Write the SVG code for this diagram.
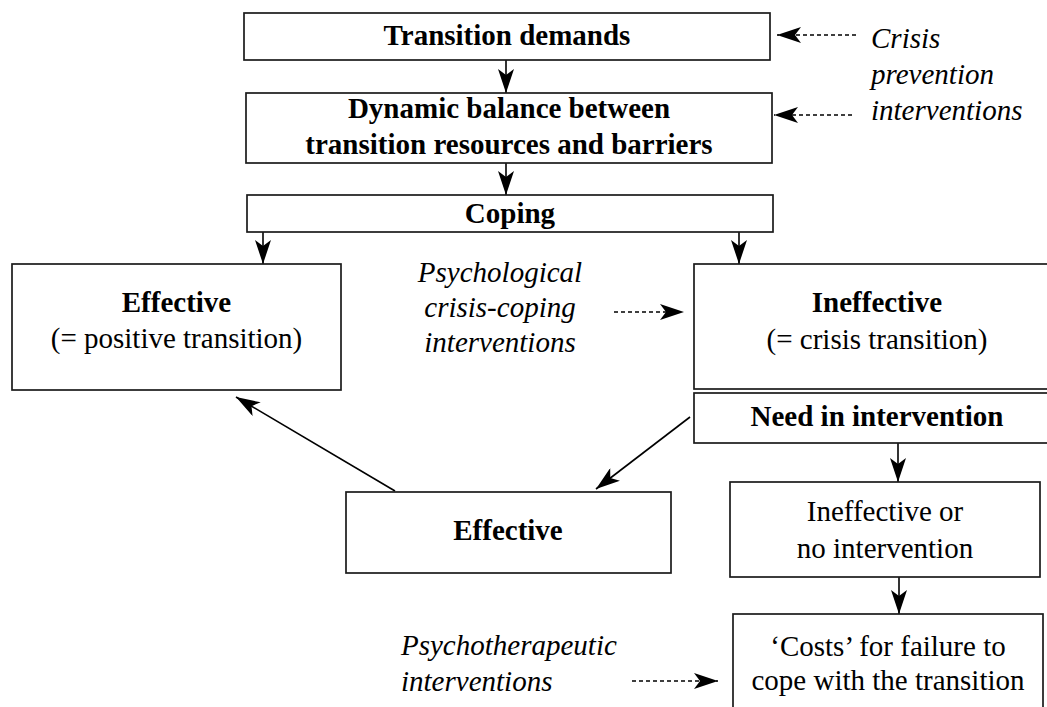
<svg xmlns="http://www.w3.org/2000/svg" width="1047" height="707" viewBox="0 0 1047 707">
<style>
.box{fill:#fff;stroke:#1a1a1a;stroke-width:1.7}
.t{font-family:'Liberation Serif','Times New Roman',Times,'Nimbus Roman','DejaVu Serif',serif;font-size:29px;fill:#000}
.b{font-weight:bold}
.i{font-style:italic}
.m{text-anchor:middle}
.c{fill:none;stroke:#000;stroke-width:1.6}
.d{fill:none;stroke:#000;stroke-width:1.6;stroke-dasharray:4 3}
</style>
<defs>
<marker id="ah" markerUnits="userSpaceOnUse" markerWidth="24" markerHeight="16" viewBox="0 0 24 16" refX="24" refY="8" orient="auto">
<path d="M0,0 L24,8 L0,16 L6,8 z" fill="#000"/>
</marker>
</defs>
<rect width="1047" height="707" fill="#fff"/>
<g id="connectors">
<line class="c" x1="506" y1="60" x2="506" y2="93" marker-end="url(#ah)"/>
<line class="c" x1="506" y1="163" x2="506" y2="195" marker-end="url(#ah)"/>
<line class="c" x1="263" y1="232" x2="263" y2="264" marker-end="url(#ah)"/>
<line class="c" x1="739" y1="232" x2="739" y2="264" marker-end="url(#ah)"/>
<line class="c" x1="898" y1="443" x2="898" y2="482" marker-end="url(#ah)"/>
<line class="c" x1="899" y1="577" x2="899" y2="614" marker-end="url(#ah)"/>
<line class="c" x1="690" y1="417" x2="596" y2="489" marker-end="url(#ah)"/>
<line class="c" x1="395" y1="491" x2="236" y2="397" marker-end="url(#ah)"/>
<line class="d" x1="856" y1="35" x2="777" y2="35" marker-end="url(#ah)"/>
<line class="d" x1="852" y1="115" x2="774" y2="115" marker-end="url(#ah)"/>
<line class="d" x1="614" y1="312" x2="684" y2="312" marker-end="url(#ah)"/>
<line class="d" x1="632" y1="681" x2="718" y2="681" marker-end="url(#ah)"/>
</g>
<g id="n-demands">
<rect class="box" x="244" y="13" width="526" height="47"/>
<text class="t b m" x="507" y="45">Transition demands</text>
</g>
<g id="n-balance">
<rect class="box" x="246" y="93" width="526" height="70"/>
<text class="t b m" x="509" y="118">Dynamic balance between</text>
<text class="t b m" x="509" y="154">transition resources and barriers</text>
</g>
<g id="n-coping">
<rect class="box" x="247" y="195" width="526" height="37"/>
<text class="t b m" x="510" y="223">Coping</text>
</g>
<g id="n-effective">
<rect class="box" x="12" y="264" width="329" height="126"/>
<text class="t b m" x="176.5" y="312">Effective</text>
<text class="t m" x="176.5" y="348">(= positive transition)</text>
</g>
<g id="n-ineffective">
<rect class="box" x="694" y="264" width="370" height="125"/>
<text class="t b m" x="877" y="312">Ineffective</text>
<text class="t m" x="877" y="349">(= crisis transition)</text>
</g>
<g id="n-need">
<rect class="box" x="694" y="393" width="370" height="50"/>
<text class="t b m" x="877" y="426">Need in intervention</text>
</g>
<g id="n-effective2">
<rect class="box" x="346" y="492" width="325" height="81"/>
<text class="t b m" x="508" y="540">Effective</text>
</g>
<g id="n-noint">
<rect class="box" x="730" y="482" width="310" height="95"/>
<text class="t m" x="885" y="521">Ineffective or</text>
<text class="t m" x="885" y="558">no intervention</text>
</g>
<g id="n-costs">
<rect class="box" x="733" y="614" width="310" height="110"/>
<text class="t m" x="888" y="656">‘Costs’ for failure to</text>
<text class="t m" x="888" y="690">cope with the transition</text>
</g>
<g id="l-prevention">
<text class="t i" x="871" y="48">Crisis</text>
<text class="t i" x="871" y="84">prevention</text>
<text class="t i" x="871" y="120">interventions</text>
</g>
<g id="l-crisiscoping">
<text class="t i m" x="500" y="282">Psychological</text>
<text class="t i m" x="500" y="317">crisis-coping</text>
<text class="t i m" x="500" y="352">interventions</text>
</g>
<g id="l-psychotherapeutic">
<text class="t i" x="401" y="655">Psychotherapeutic</text>
<text class="t i" x="401" y="691">interventions</text>
</g>
</svg>
